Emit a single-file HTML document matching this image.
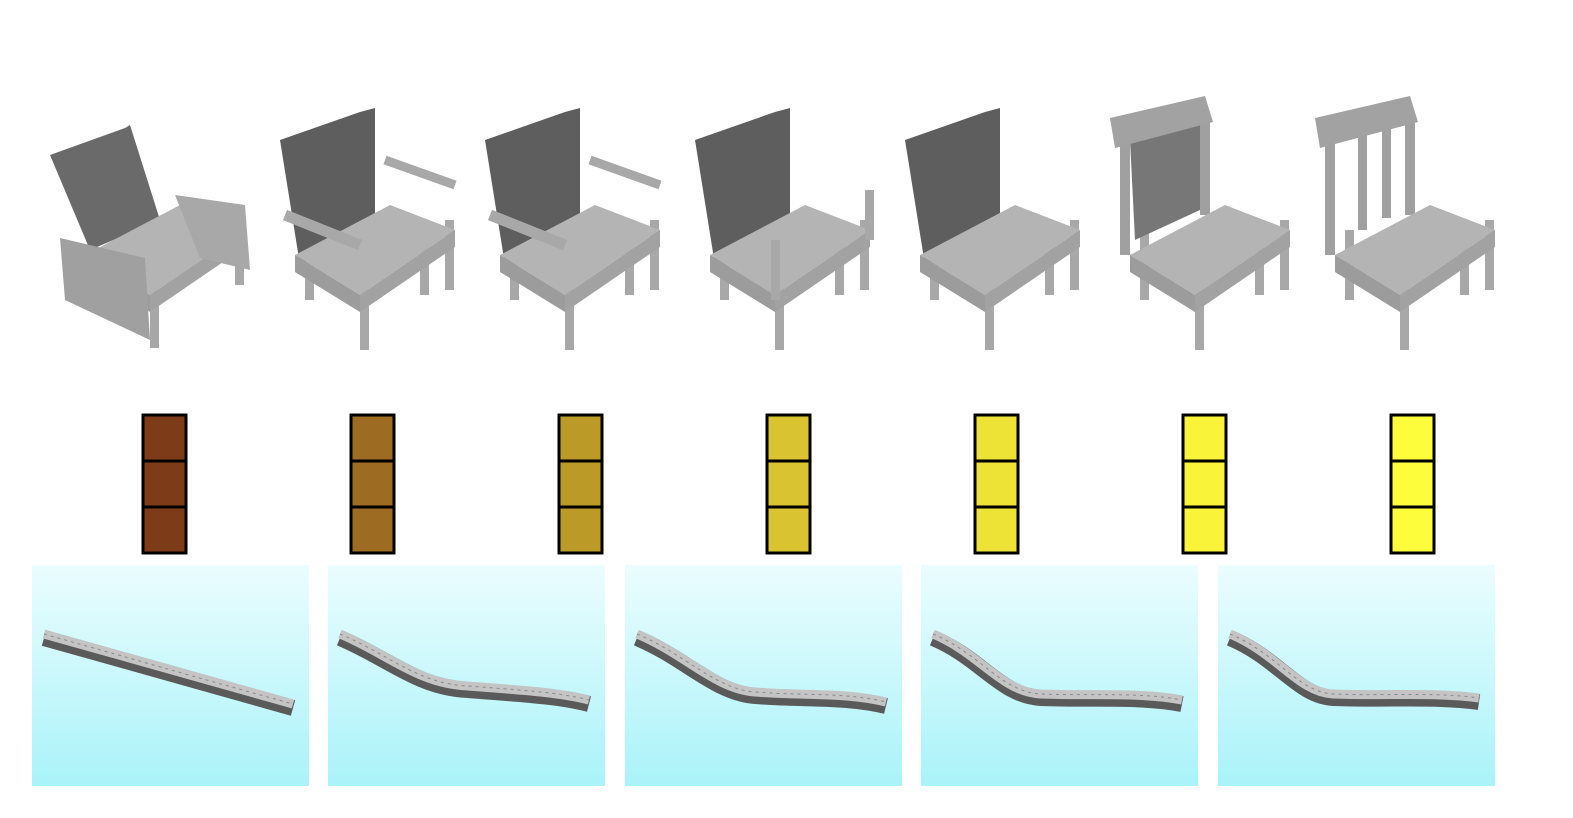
<!DOCTYPE html>
<html><head><meta charset="utf-8"><style>
html,body{margin:0;padding:0;background:#fff;width:1573px;height:818px;overflow:hidden}
</style></head><body>
<svg width="1573" height="818" viewBox="0 0 1573 818" xmlns="http://www.w3.org/2000/svg">
<defs>
<linearGradient id="bg" x1="0" y1="0" x2="0" y2="1"><stop offset="0" stop-color="#ebfdfe"/><stop offset="1" stop-color="#a9f3f9"/></linearGradient>
</defs>
<g id="chairs"></g>
<g id="bars"></g>
<g id="panels"></g>
</svg>
<script>
const NS='http://www.w3.org/2000/svg';
function mk(tag,attrs,parent){const e=document.createElementNS(NS,tag);for(const k in attrs)e.setAttribute(k,attrs[k]);parent.appendChild(e);return e;}
const chairX=[150,360,565,775,985,1195,1400];
const armType=[2,1,1,0.5,0,0,0];
const chairs=document.getElementById('chairs');
chairX.forEach((cx,i)=>{
  const g=mk('g',{transform:`translate(${cx-100},0)`},chairs);
  
  
  const leg='#a8a8a8';
  if(i>0) [[45,230,300],[100,280,350],[160,240,295],[185,220,290]].forEach(l=>mk('rect',{x:l[0],y:l[1],width:9,height:l[2]-l[1],fill:leg},g));
  else [[60,250,295],[100,290,348],[185,230,285]].forEach(l=>mk('rect',{x:l[0],y:l[1],width:9,height:l[2]-l[1],fill:leg},g));
  if(i==0) mk('polygon',{points:'0,155 75,128 80,125 110,220 40,250',fill:'#6a6a6a'},g);
  else if(i<5) mk('polygon',{points:'20,140 100,112 115,108 115,225 100,232 40,265',fill:'#5e5e5e'},g);
  else { mk('rect',{x:25,y:140,width:10,height:115,fill:'#a0a0a0'},g);mk('rect',{x:105,y:120,width:10,height:95,fill:'#a0a0a0'},g);
    if(i==5) mk('polygon',{points:'35,140 105,125 105,210 40,240',fill:'#777'},g);
    else {mk('rect',{x:58,y:135,width:9,height:95,fill:'#a0a0a0'},g);mk('rect',{x:82,y:128,width:9,height:90,fill:'#a0a0a0'},g);}
    mk('polygon',{points:'15,118 110,96 118,122 20,148',fill:'#a2a2a2'},g); }
  mk('polygon',{points:'35,255 130,205 195,230 100,295',fill:'#b4b4b4'},g);
  mk('polygon',{points:'35,255 100,295 100,312 35,272',fill:'#9c9c9c'},g);
  mk('polygon',{points:'100,295 195,230 195,247 100,312',fill:'#a2a2a2'},g);
  if(armType[i]==2){mk('polygon',{points:'10,238 95,258 100,340 15,300',fill:'#a0a0a0'},g);mk('polygon',{points:'125,195 195,205 200,270 150,258',fill:'#a8a8a8'},g);}
  else if(armType[i]==1){mk('line',{x1:25,y1:215,x2:100,y2:245,stroke:'#a8a8a8','stroke-width':11},g);mk('line',{x1:125,y1:160,x2:195,y2:185,stroke:'#a8a8a8','stroke-width':9},g);}
  else if(armType[i]==0.5){mk('rect',{x:96,y:240,width:9,height:60,fill:'#a8a8a8'},g);mk('rect',{x:190,y:190,width:9,height:50,fill:'#a8a8a8'},g);}
});
const barX=[143,351,559,767,975,1183,1391];
const barColors=['#7e3b17','#9d6b22','#bc9a28','#d9c331','#ede336','#f9f43a','#fdfd3b'];
const bars=document.getElementById('bars');
barX.forEach((x,i)=>{for(let k=0;k<3;k++){const r=mk('rect',{x:x,y:415+k*46,width:43,height:46,fill:barColors[i],stroke:'#000','stroke-width':3},bars);
 
 }});
const panelX=[32,328,625,921,1218];
const beams=[
 'M12,70 C90,92 170,115 261,140',
 'M12,70 C60,90 90,120 140,122 C190,126 230,128 261,136',
 'M12,70 C60,90 90,125 130,128 C180,132 220,128 261,138',
 'M12,70 C60,90 80,128 120,130 C170,132 220,128 261,136',
 'M12,70 C60,90 80,128 115,130 C170,132 220,128 261,134'];
const panels=document.getElementById('panels');
panelX.forEach((x,i)=>{
 const g=mk('g',{transform:`translate(${x},565)`},panels);
 
 
 mk('rect',{x:0,y:0,width:277,height:221,fill:'url(#bg)'},g);
 mk('path',{d:beams[i],fill:'none',stroke:'#5a5a5a','stroke-width':16,transform:'translate(0,3)'},g);
 mk('path',{d:beams[i],fill:'none',stroke:'#c4c4c4','stroke-width':9,transform:'translate(0,-1)'},g);
 mk('path',{d:beams[i],fill:'none',stroke:'#8a8a8a','stroke-width':1,'stroke-dasharray':'3 4',transform:'translate(0,-1)'},g);
});
</script>
</body></html>
